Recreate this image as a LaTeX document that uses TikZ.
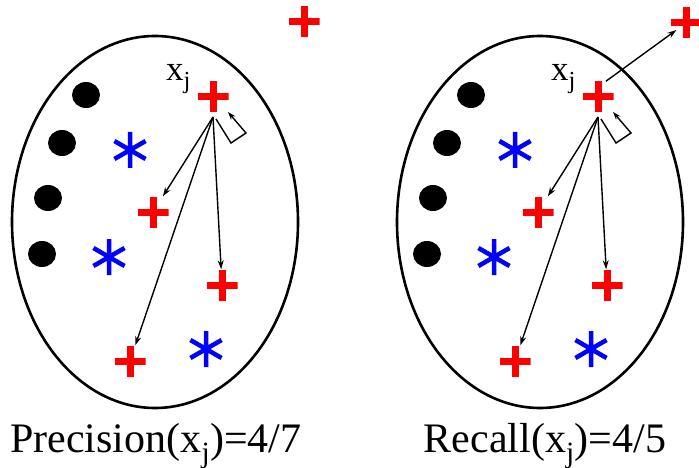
\documentclass[tikz,border=0pt]{standalone}
\usepackage{fontspec}
\setmainfont{Liberation Serif}
\usetikzlibrary{shapes.geometric,arrows.meta,calc}
\tikzset{
  plusmark/.style={rectangle,minimum size=31pt,inner sep=0pt,draw=none,
    path picture={\draw[red,line width=7pt]
      (path picture bounding box.north) -- (path picture bounding box.south)
      (path picture bounding box.west) -- (path picture bounding box.east);}},
  starmark/.style={rectangle,minimum size=36pt,inner sep=0pt,draw=none,
    path picture={\draw[blue,line width=4.5pt]
      ([shift={(90:18pt)}]path picture bounding box.center) -- ([shift={(270:18pt)}]path picture bounding box.center)
      ([shift={(30:18pt)}]path picture bounding box.center) -- ([shift={(210:18pt)}]path picture bounding box.center)
      ([shift={(150:18pt)}]path picture bounding box.center) -- ([shift={(330:18pt)}]path picture bounding box.center);}},
  dotmark/.style={ellipse,fill=black,minimum width=28pt,minimum height=26pt,inner sep=0pt},
  cluster/.style={ellipse,draw=black,line width=2.6pt,minimum width=286pt,minimum height=372pt,inner sep=0pt},
  link/.style={line width=1.4pt,-{Stealth[length=9pt,width=6pt]}},
  turn/.style={line width=1.4pt,-{Stealth[length=8pt,width=5.5pt]}},
  lbl/.style={inner sep=0pt,font=\fontsize{35}{35}\selectfont},
  caption/.style={inner sep=0pt,font=\fontsize{42}{42}\selectfont}
}
\begin{document}
\begin{tikzpicture}[x=1pt,y=-1pt]
\useasboundingbox (0,0) rectangle (699,468);
\foreach \pref/\dx in {L-/0,R-/385}{
\begin{scope}[xshift=\dx pt,name prefix=\pref]
  \node[cluster] (cl) at (155,222) {};
  \node[dotmark] (d1) at (86,95) {};
  \node[dotmark] (d2) at (62,143) {};
  \node[dotmark] (d3) at (48,198) {};
  \node[dotmark] (d4) at (42,254) {};
  \node[starmark] (s1) at (130,150) {};
  \node[starmark] (s2) at (109,257) {};
  \node[starmark] (s3) at (206,349) {};
  \node[plusmark] (xj) at (213,97) {};
  \node[plusmark] (p1) at (153,212) {};
  \node[plusmark] (p2) at (222,285) {};
  \node[plusmark] (p3) at (130,361) {};
  \node[lbl,anchor=base west] (xl) at (166,81) {x\textsubscript{j}};
  \coordinate (src) at (213,117);
  \draw[link] (src) -- (p1);
  \draw[link] (src) -- (p2);
  \draw[link] (src) -- (p3);
  \coordinate (t0) at (216,119);
  \coordinate (t1) at (231,143);
  \coordinate (t2) at (246,133);
  \coordinate (t3) at (228,112);
  \draw[turn] (t0) -- (t1) -- (t2) -- (t3);
\end{scope}
}
\node[plusmark] (L-out) at (304,22) {};
\node[plusmark] (R-out) at (686,23) {};
\draw[link,shorten >=12pt] ($(R-xj.north)!0.5!(R-xj.north east)$) -- (R-out.center);
\node[caption,anchor=base] (prec) at (156,452) {Precision(x\textsubscript{j})=4/7};
\node[caption,anchor=base] (rec) at (545,452) {Recall(x\textsubscript{j})=4/5};
\end{tikzpicture}
\end{document}
